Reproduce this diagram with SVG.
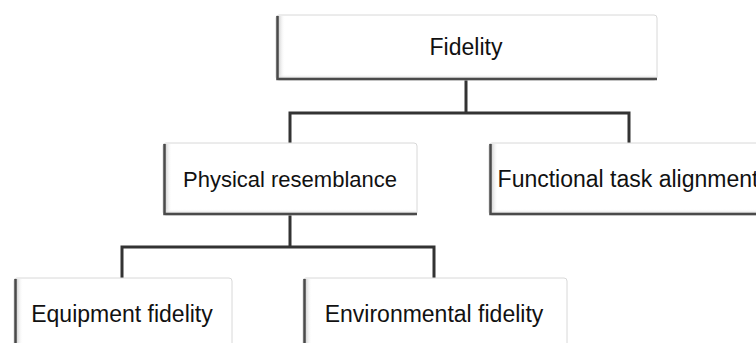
<svg xmlns="http://www.w3.org/2000/svg" width="756" height="343" viewBox="0 0 756 343">
  <defs>
    <linearGradient id="lshade" x1="0" y1="0" x2="1" y2="0">
      <stop offset="0" stop-color="#b8b8b8"/>
      <stop offset="1" stop-color="#ffffff" stop-opacity="0"/>
    </linearGradient>
    <linearGradient id="bshade" x1="0" y1="1" x2="0" y2="0">
      <stop offset="0" stop-color="#c8c8c8"/>
      <stop offset="1" stop-color="#ffffff" stop-opacity="0"/>
    </linearGradient>
  </defs>
  <style>
    .box { fill: #ffffff; stroke: #d8d8d8; stroke-width: 1; }
    .ls { fill: url(#lshade); }
    .bs { fill: url(#bshade); }
    .edge { stroke: #4a4a4a; stroke-width: 2.5; fill: none; }
    .lbl { font-family: "Liberation Sans", Arial, sans-serif; font-size: 23px; fill: #111111; text-anchor: middle; }
    .conn { stroke: #333333; stroke-width: 3; fill: none; stroke-linejoin: miter; }
  </style>
  <rect width="756" height="343" fill="#ffffff"/>

  <g id="connectors">
    <polyline class="conn" points="466,80 466,113"/>
    <polyline class="conn" points="290,143 290,113 629,113 629,143"/>
    <polyline class="conn" points="290,215 290,247"/>
    <polyline class="conn" points="122,278 122,247 434,247 434,278"/>
  </g>

  <g id="node-fidelity">
    <rect class="box" x="276" y="15" width="381" height="65" rx="3"/>
    <rect class="ls" x="277" y="16" width="8" height="63"/>
    <rect class="bs" x="277" y="74" width="379" height="5"/>
    <path class="edge" d="M277.5,16 V79 H657"/>
    <text class="lbl" x="466" y="55">Fidelity</text>
  </g>

  <g id="node-physical">
    <rect class="box" x="163" y="143" width="254" height="72" rx="3"/>
    <rect class="ls" x="164" y="144" width="8" height="70"/>
    <rect class="bs" x="164" y="209" width="252" height="5"/>
    <path class="edge" d="M164.5,144 V214 H417"/>
    <text class="lbl" x="290" y="187" style="font-size:22px">Physical resemblance</text>
  </g>

  <g id="node-functional">
    <rect class="box" x="489" y="143" width="290" height="72" rx="3"/>
    <rect class="ls" x="490" y="144" width="8" height="70"/>
    <rect class="bs" x="490" y="209" width="290" height="5"/>
    <path class="edge" d="M490.5,144 V214 H780"/>
    <text class="lbl" x="628" y="187">Functional task alignment</text>
  </g>

  <g id="node-equipment">
    <rect class="box" x="14" y="278" width="218" height="80" rx="3"/>
    <rect class="ls" x="15" y="279" width="8" height="70"/>
    <path class="edge" d="M15.5,279 V350"/>
    <text class="lbl" x="122" y="322">Equipment fidelity</text>
  </g>

  <g id="node-environmental">
    <rect class="box" x="303" y="278" width="264" height="80" rx="3"/>
    <rect class="ls" x="304" y="279" width="8" height="70"/>
    <path class="edge" d="M304.5,279 V350"/>
    <text class="lbl" x="434" y="322">Environmental fidelity</text>
  </g>
</svg>
